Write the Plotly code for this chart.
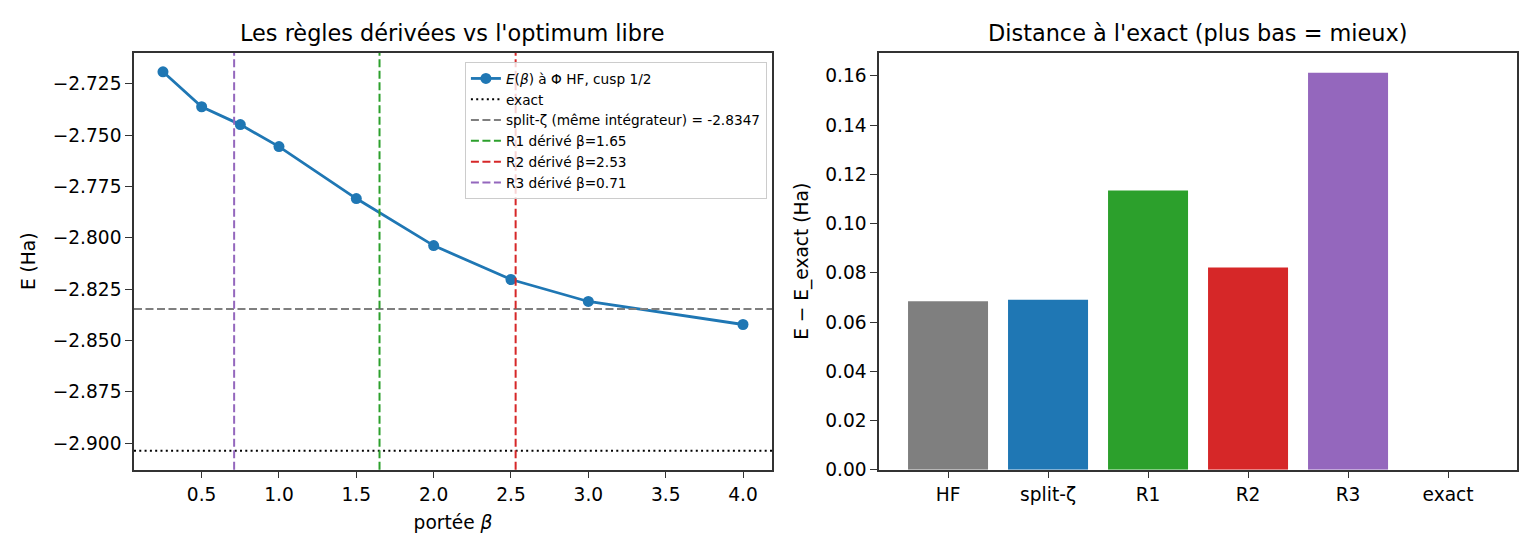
import plotly.graph_objects as go
from plotly.subplots import make_subplots

# energie E(beta) a Phi HF, cusp 1/2
beta = [0.25, 0.5, 0.75, 1.0, 1.5, 2.0, 2.5, 3.0, 4.0]
energy = [-2.7192, -2.7362, -2.7449, -2.7556, -2.7809, -2.8038, -2.8203, -2.8310, -2.8422]

e_exact = -2.9037
e_split = -2.8347
rule_names = ["R1", "R2", "R3"]
rule_beta = [1.65, 2.53, 0.71]

# distance a l'exact
bar_labels = ["HF", "split-ζ", "R1", "R2", "R3", "exact"]
bar_values = [0.0684, 0.0690, 0.1134, 0.0821, 0.1612, 0.0]

blue = "#1f77b4"
gray = "#7f7f7f"
rule_colors = ["#2ca02c", "#d62728", "#9467bd"]
bar_colors = [gray, blue] + rule_colors + ["#8c564b"]

font = "DejaVu Sans"
tick_size = 18.6
y_dom = [0.1444, 0.9036]

fig = make_subplots(rows=1, cols=2)

fig.add_trace(go.Scatter(
    x=beta, y=energy, mode="lines+markers",
    line=dict(color=blue, width=2.8),
    marker=dict(color=blue, size=11),
    name="<i>E</i>(<i>β</i>) à Φ HF, cusp 1/2",
), row=1, col=1)

fig.add_shape(type="line", xref="x domain", yref="y", x0=0, x1=1, y0=e_exact, y1=e_exact,
              line=dict(color="black", width=2, dash="2px,3.3px"),
              showlegend=True, name="exact")
fig.add_shape(type="line", xref="x domain", yref="y", x0=0, x1=1, y0=e_split, y1=e_split,
              line=dict(color=gray, width=2, dash="8px,3.5px"),
              showlegend=True, name="split-ζ (même intégrateur) = %.4f" % e_split)
for nm, b, c in zip(rule_names, rule_beta, rule_colors):
    fig.add_shape(type="line", xref="x", yref="y domain", x0=b, x1=b, y0=0, y1=1,
                  line=dict(color=c, width=2, dash="8px,3.5px"),
                  showlegend=True, name="%s dérivé β=%.2f" % (nm, b))

fig.add_trace(go.Bar(
    x=bar_labels, y=bar_values, marker=dict(color=bar_colors, line=dict(width=0)),
    width=0.8, showlegend=False,
), row=1, col=2)

axis_common = dict(
    showline=True, linecolor="#333333", linewidth=1.5, mirror=True,
    ticks="outside", ticklen=7, tickwidth=1.4, tickcolor="#333333",
    showgrid=False, zeroline=False,
    tickfont=dict(family=font, size=tick_size, color="black"),
    title_font=dict(family=font, size=tick_size, color="black"),
)

fig.update_xaxes(axis_common)
fig.update_yaxes(axis_common)

fig.update_layout(
    width=1540, height=560,
    margin=dict(l=0, r=0, t=0, b=0),
    plot_bgcolor="white", paper_bgcolor="white",
    font=dict(family=font, color="black"),
    xaxis=dict(domain=[0.087, 0.5013], range=[0.0625, 4.1875],
               tick0=0.5, dtick=0.5, tickformat=".1f",
               title=dict(text="portée <i>β</i>", standoff=12)),
    yaxis=dict(domain=y_dom, range=[-2.9129, -2.7100],
               tick0=-2.9, dtick=0.025, tickformat=".3f",
               title=dict(text="E (Ha)", standoff=12)),
    xaxis2=dict(domain=[0.5708, 0.9851], range=[-0.69, 5.69],
                title=None),
    yaxis2=dict(domain=y_dom, range=[0, 0.1693],
                tick0=0, dtick=0.02, tickformat=".2f",
                title=dict(text="E − E_exact (Ha)", standoff=12)),
    legend=dict(
        x=0.498, y=0.887, xanchor="right", yanchor="top",
        bgcolor="rgba(255,255,255,0.8)", bordercolor="#cccccc", borderwidth=1,
        font=dict(family=font, size=13.7, color="black"),
        tracegroupgap=0, itemwidth=30,
    ),
    annotations=[
        dict(text="Les règles dérivées vs l'optimum libre", xref="paper", yref="paper",
             x=(0.087 + 0.5013) / 2, y=0.913, xanchor="center", yanchor="bottom",
             showarrow=False, font=dict(family=font, size=22.4, color="black")),
        dict(text="Distance à l'exact (plus bas = mieux)", xref="paper", yref="paper",
             x=(0.5708 + 0.9851) / 2, y=0.913, xanchor="center", yanchor="bottom",
             showarrow=False, font=dict(family=font, size=22.4, color="black")),
    ],
)

# page sans marge pour que la figure tombe pile dans la fenetre
fig.write_html("out.html", config={"displayModeBar": False},
               post_script="document.body.style.margin='0';")
